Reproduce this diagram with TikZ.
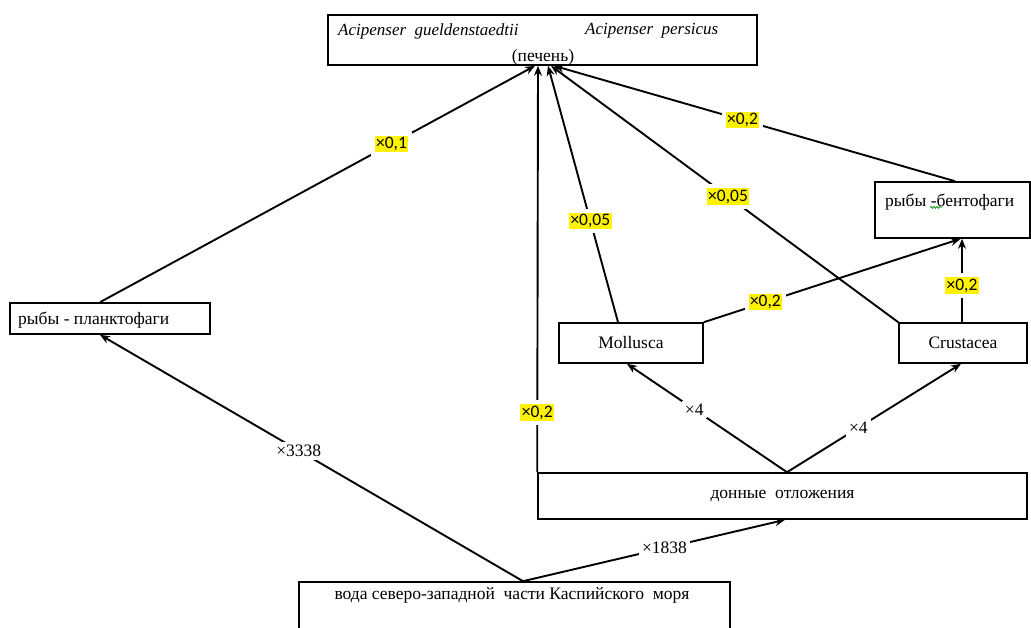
\documentclass[tikz,border=0pt]{standalone}
\usepackage{fontspec}
\setmainfont{Liberation Serif}
\newfontfamily\labfont{Carlito}
\usetikzlibrary{arrows.meta,calc,decorations.pathmorphing}
\setlength{\fboxsep}{1.5pt}
\newcommand{\hlt}[1]{\colorbox{yellow}{#1}}
\begin{document}
\begin{tikzpicture}[x=1pt,y=-1pt,
  box/.style={draw, line width=1.6pt, inner sep=0pt, font=\fontsize{17.5}{20}\selectfont},
  txt/.style={inner sep=0pt, font=\fontsize{17.5}{20}\selectfont},
  conn/.style={line width=1.9pt, -{Stealth[length=10pt,width=8pt]}},
  hl/.style={fill=white, inner sep=4pt, font=\labfont\fontsize{17.5}{20}\selectfont},
  ml/.style={fill=white, inner sep=3pt, font=\fontsize{17.5}{20}\selectfont}
]
\path[use as bounding box] (0,0) rectangle (1031,628);
\clip (0,0) rectangle (1031,628);
\fill[white] (0,0) rectangle (1031,628);

% boxes
\node[box, minimum width=429pt, minimum height=50pt] (top) at (542.5,40) {};
\node[box, minimum width=155pt, minimum height=56pt] (bent) at (952.5,210) {};
\node[box, minimum width=200pt, minimum height=31pt] (plank) at (110,318.5) {};
\node[box, minimum width=144pt, minimum height=40pt] (moll) at (631,343) {Mollusca};
\node[box, minimum width=128pt, minimum height=40pt] (crus) at (963,343) {Crustacea};
\node[box, minimum width=489pt, minimum height=46pt] (don) at (782.5,496) {донные~ отложения};
\node[box, minimum width=431pt, minimum height=58pt] (voda) at (514.5,611) {};

% texts
\node[txt, anchor=west, font=\itshape\fontsize{17}{20}\selectfont] (t1) at (338,31) {Acipenser~ gueldenstaedtii};
\node[txt, anchor=west, font=\itshape\fontsize{17}{20}\selectfont] (t2) at (585,31) {Acipenser~ persicus};
\node[txt] (t3) at (543,57) {(печень)};
\node[txt, anchor=west] (t4) at (885,202) {рыбы -бентофаги};
\node[txt, anchor=west] (t5) at (18,320) {рыбы - планктофаги};
\node[txt] (t6) at (512,595) {вода северо-западной~ части Каспийского~ моря};
\draw[green!60!black, line width=0.7pt, decorate, decoration={snake, amplitude=1pt, segment length=3pt}] (t4.south west) ++(45,-3) -- ++(12,0);

% connectors
\draw[conn] ([xshift=8.5pt]voda.north) -- node[ml, pos=0.53] (l1) {×3338} ([xshift=-10pt]plank.south);
\draw[conn] ([xshift=8.5pt]voda.north) -- node[ml, pos=0.54] (l2) {×1838} ([xshift=2.5pt]don.south);
\draw[conn] ([xshift=-10pt]plank.north) -- node[hl, pos=0.67] (l3) {\hlt{×0,1}} ([xshift=-7.5pt]top.south);
\draw[conn] (don.north west) -- node[hl, pos=0.147] (l4) {\hlt{×0,2}} ([xshift=-4.5pt]top.south);
\draw[conn] ([xshift=-13pt]moll.north) -- node[hl, pos=0.395] (l5) {\hlt{×0,05}} ([xshift=5.5pt]top.south);
\draw[conn] (crus.north west) -- node[hl, pos=0.49] (l6) {\hlt{×0,05}} ([xshift=8.5pt]top.south);
\draw[conn] ([xshift=2.5pt]bent.north) -- node[hl, pos=0.53] (l7) {\hlt{×0,2}} ([xshift=11.5pt]top.south);
\draw[conn] (moll.north east) -- node[hl, pos=0.24] (l8) {\hlt{×0,2}} ([xshift=8pt]bent.south);
\draw[conn] ([xshift=-1pt]crus.north) -- node[hl, pos=0.44] (l9) {\hlt{×0,2}} ([xshift=9.5pt]bent.south);
\draw[conn] ([xshift=4.5pt]don.north) -- node[ml, pos=0.58] (l10) {×4} ([xshift=-4pt]moll.south);
\draw[conn] ([xshift=4.5pt]don.north) -- node[ml, pos=0.41] (l11) {×4} ([xshift=-2pt]crus.south);
\end{tikzpicture}
\end{document}
